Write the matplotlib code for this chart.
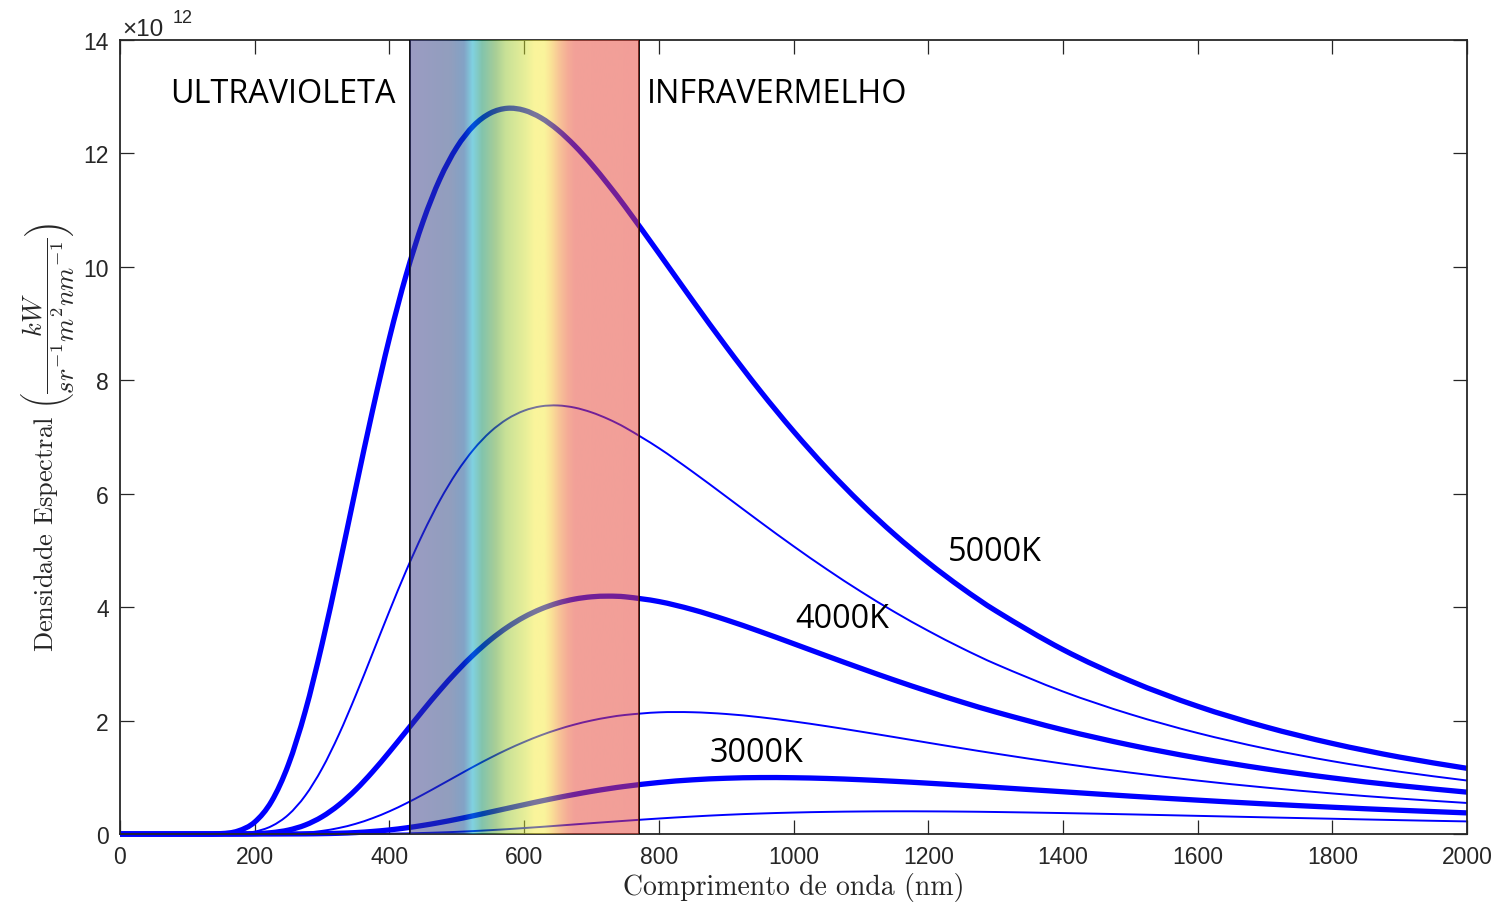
import numpy as np
import matplotlib
matplotlib.use("Agg")
import matplotlib.pyplot as plt
from matplotlib.path import Path
from matplotlib.patches import PathPatch
from matplotlib.ticker import ScalarFormatter

# wavelength (nm) and spectral density (x1e12)
wavelength = [0, 100, 150, 175, 200, 225, 250, 275, 300, 325, 350, 375, 400, 425, 450,
              475, 500, 525, 550, 575, 600, 625, 650, 675, 700, 725, 750, 800, 850, 900,
              950, 1000, 1050, 1100, 1150, 1200, 1250, 1300, 1400, 1500, 1600, 1700,
              1800, 1900, 2000]

b5000 = [0, 0.0, 0.007, 0.052, 0.210, 0.576, 1.223, 2.161, 3.347, 4.690, 6.094, 7.467,
         8.742, 9.862, 10.80, 11.55, 12.107, 12.489, 12.711, 12.796, 12.761, 12.628,
         12.415, 12.138, 11.812, 11.449, 11.062, 10.242, 9.408, 8.595, 7.822, 7.102,
         6.438, 5.832, 5.282, 4.786, 4.339, 3.938, 3.252, 2.700, 2.253, 1.892, 1.597,
         1.356, 1.158]
b4500 = [0, 0.0, 0.001, 0.008, 0.042, 0.139, 0.340, 0.676, 1.153, 1.754, 2.445, 3.184,
         3.929, 4.645, 5.303, 5.884, 6.377, 6.780, 7.092, 7.317, 7.464, 7.541, 7.556,
         7.518, 7.435, 7.316, 7.167, 6.805, 6.389, 5.950, 5.507, 5.075, 4.663, 4.275,
         3.915, 3.583, 3.277, 2.998, 2.513, 2.112, 1.781, 1.509, 1.284, 1.098, 0.943]
b4000 = [0, 0.0, 0.0, 0.001, 0.006, 0.024, 0.069, 0.158, 0.304, 0.513, 0.780, 1.097,
         1.447, 1.813, 2.181, 2.535, 2.865, 3.163, 3.424, 3.645, 3.826, 3.967, 4.072,
         4.142, 4.182, 4.194, 4.182, 4.099, 3.957, 3.776, 3.572, 3.356, 3.137, 2.922,
         2.713, 2.515, 2.327, 2.152, 1.837, 1.568, 1.341, 1.150, 0.989, 0.853, 0.738]
b3500 = [0, 0.0, 0.0, 0.0, 0.0, 0.002, 0.009, 0.024, 0.055, 0.106, 0.180, 0.279, 0.400,
         0.541, 0.696, 0.859, 1.024, 1.188, 1.344, 1.490, 1.622, 1.741, 1.843, 1.930,
         2.001, 2.057, 2.099, 2.145, 2.147, 2.116, 2.060, 1.985, 1.899, 1.805, 1.708,
         1.609, 1.512, 1.418, 1.241, 1.082, 0.942, 0.820, 0.715, 0.625, 0.547]
b3000 = [0, 0.0, 0.0, 0.0, 0.0, 0.0, 0.001, 0.002, 0.006, 0.013, 0.025, 0.045, 0.072,
         0.108, 0.152, 0.203, 0.260, 0.322, 0.387, 0.452, 0.517, 0.581, 0.642, 0.698,
         0.751, 0.798, 0.840, 0.908, 0.955, 0.983, 0.995, 0.992, 0.979, 0.957, 0.929,
         0.896, 0.860, 0.822, 0.745, 0.668, 0.597, 0.531, 0.472, 0.419, 0.372]
b2500 = [0, 0.0, 0.0, 0.0, 0.0, 0.0, 0.0, 0.0, 0.0, 0.001, 0.002, 0.003, 0.007, 0.011,
         0.018, 0.027, 0.038, 0.052, 0.068, 0.085, 0.105, 0.125, 0.147, 0.169, 0.191,
         0.212, 0.233, 0.273, 0.308, 0.338, 0.361, 0.378, 0.390, 0.397, 0.400, 0.399,
         0.395, 0.388, 0.369, 0.346, 0.320, 0.294, 0.269, 0.244, 0.222]

curves = [(b5000, 3.8), (b4500, 1.4), (b4000, 3.8), (b3500, 1.4), (b3000, 3.8), (b2500, 1.4)]

# visible band edges and its colour stops
visible = (430, 770)
band_nm = [430, 490, 510, 523, 537, 557, 572, 600, 615, 630, 640, 650, 664, 675, 770]
band_rgb = [(55, 55, 135), (35, 61, 125), (5, 69, 141), (0, 165, 195), (5, 137, 89),
            (81, 157, 45), (145, 195, 45), (205, 221, 49), (245, 235, 55), (245, 233, 55),
            (245, 195, 45), (241, 145, 45), (235, 89, 45), (229, 65, 49), (229, 61, 49)]

labels = [("ULTRAVIOLETA", 74, 13.05), ("INFRAVERMELHO", 782, 13.05),
          ("5000K", 1229, 4.98), ("4000K", 1002, 3.80), ("3000K", 876, 1.43)]

SCALE = 1e12
INK = '#262626'


def smooth_path(x, y):
    # cubic Bezier pieces through the samples (Hermite tangents)
    x = np.asarray(x, float)
    y = np.asarray(y, float)
    m = np.empty(len(x))
    m[1:-1] = (y[2:] - y[:-2]) / (x[2:] - x[:-2])
    m[0] = (y[1] - y[0]) / (x[1] - x[0])
    m[-1] = (y[-1] - y[-2]) / (x[-1] - x[-2])
    verts = [(x[0], y[0])]
    codes = [Path.MOVETO]
    for i in range(len(x) - 1):
        h = x[i + 1] - x[i]
        verts += [(x[i] + h / 3, y[i] + m[i] * h / 3),
                  (x[i + 1] - h / 3, y[i + 1] - m[i + 1] * h / 3),
                  (x[i + 1], y[i + 1])]
        codes += [Path.CURVE4] * 3
    return Path(verts, codes)


fig = plt.figure(figsize=(15.05, 9.03), dpi=100)
ax = fig.add_axes([120 / 1505, 1 - 835 / 903, 1347 / 1505, 794 / 903])

for vals, lw in curves:
    p = smooth_path(wavelength, np.array(vals) * SCALE)
    ax.add_patch(PathPatch(p, fill=False, edgecolor='#0000ff', lw=lw,
                           capstyle='butt', joinstyle='round', clip_on=False, zorder=2))

# spectrum band drawn on top, half transparent
nm = np.linspace(visible[0], visible[1], 600)
rgb = np.array(band_rgb) / 255.0
grad = np.stack([np.interp(nm, band_nm, rgb[:, i]) for i in range(3)], axis=-1)[None, :, :]
ax.imshow(grad, extent=[visible[0], visible[1], 0, 14 * SCALE], aspect='auto',
          alpha=0.5, zorder=3, interpolation='bilinear')
for v in visible:
    ax.axvline(v, color='black', lw=1.3, zorder=2.8)

for txt, x, y in labels:
    ax.text(x, y * SCALE, txt, fontsize=23.3, fontfamily='Open Sans', va='center',
            ha='left', zorder=4)

ax.set_xlim(0, 2000)
ax.set_ylim(0, 14 * SCALE)
ax.set_xticks(np.arange(0, 2001, 200))
ax.set_yticks(np.arange(0, 15, 2) * SCALE)
fmt = ScalarFormatter()
fmt.set_powerlimits((12, 12))
ax.yaxis.set_major_formatter(fmt)
ax.yaxis.get_offset_text().set_visible(False)
# exponent written like MATLAB does it
ax.text(0.0015, 1.0057, '×10', transform=ax.transAxes, fontsize=17.5,
        fontfamily='Liberation Sans', color=INK, va='baseline', ha='left')
ax.text(0.0393, 1.0225, '12', transform=ax.transAxes, fontsize=13,
        fontfamily='Liberation Sans', color=INK, va='baseline', ha='left')

ax.tick_params(direction='in', top=True, right=True, length=10, width=0.9,
               color=INK, labelsize=16.5, labelcolor=INK, pad=8)
for lab in ax.get_xticklabels() + ax.get_yticklabels():
    lab.set_fontfamily('Liberation Sans')
for sp in ax.spines.values():
    sp.set_linewidth(1.3)
    sp.set_color(INK)

ax.set_xlabel('Comprimento de onda (nm)', fontfamily='cmr10', fontsize=20, color=INK)
ax.xaxis.set_label_coords(0.5, -0.048)
ax.set_ylabel(r'Densidade Espectral $\left(\dfrac{kW}{sr^{-1}m^{2}nm^{-1}}\right)$',
              fontfamily='cmr10', fontsize=19, color=INK, math_fontfamily='cm')
ax.yaxis.set_label_coords(-0.032, 0.5)

fig.savefig('out.png', dpi=100)
